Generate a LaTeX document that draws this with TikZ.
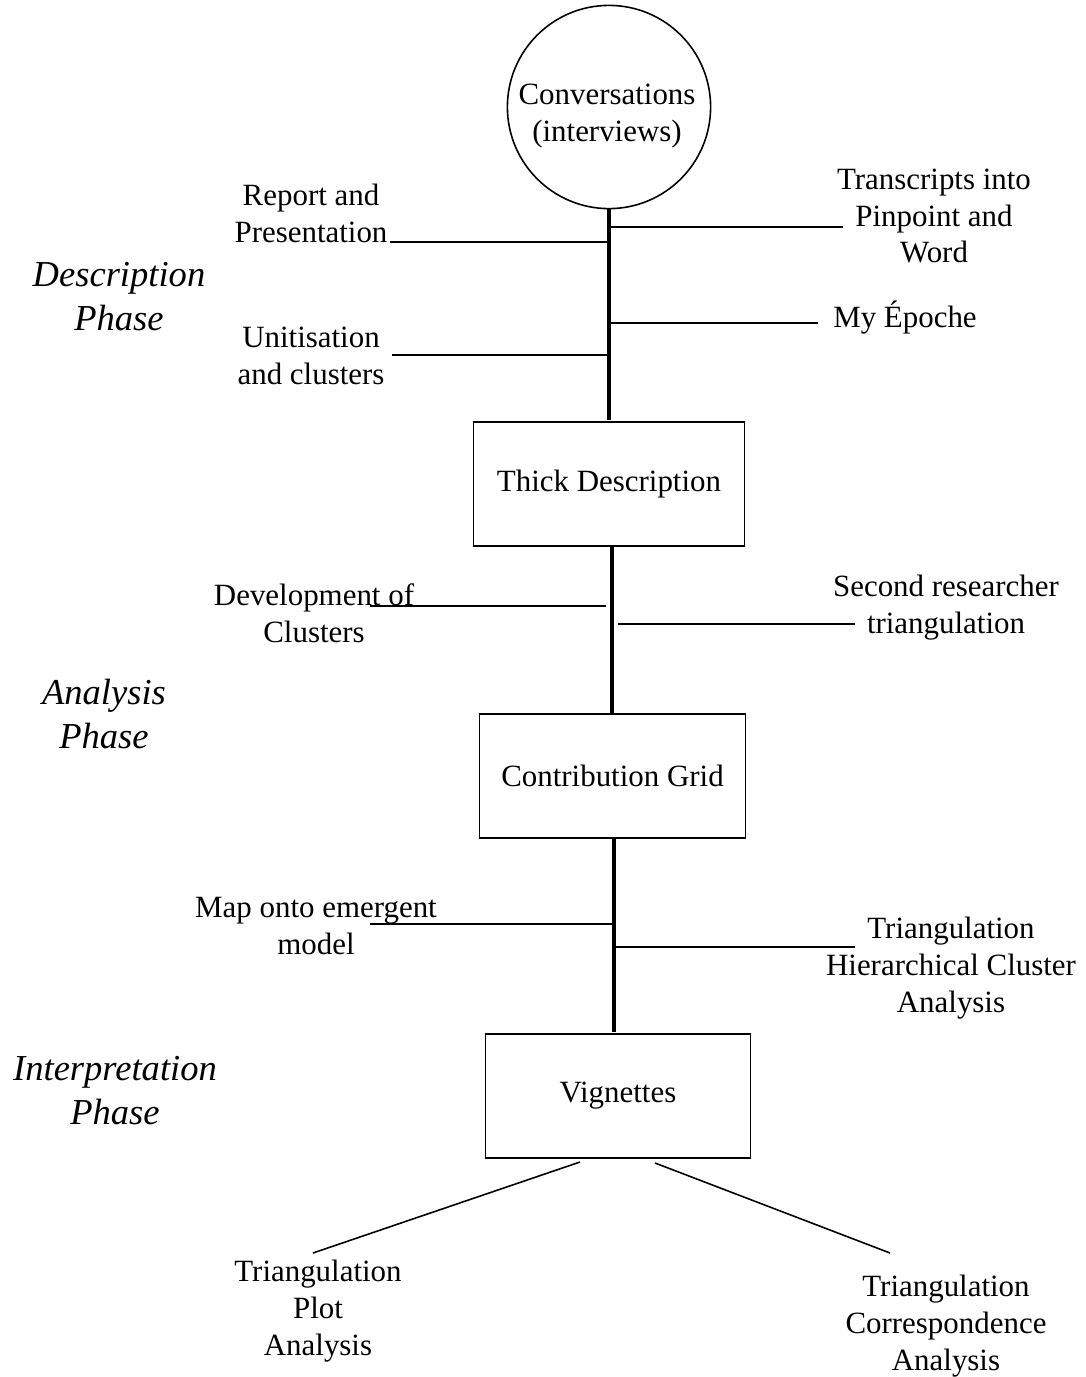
\documentclass[tikz,border=0pt]{standalone}
\usepackage{fontspec}
\setmainfont{Liberation Serif}
\begin{document}
\begin{tikzpicture}[x=0.02cm,y=-0.02cm,
  lbl/.style={align=center,inner sep=0pt,font=\fontsize{17.6}{21}\selectfont},
  phase/.style={align=center,inner sep=0pt,font=\fontsize{20.8}{25}\selectfont\itshape},
  stage/.style={draw,line width=0.9pt,minimum width=#1,minimum height=125*0.567pt,inner sep=0pt,font=\fontsize{17.6}{21}\selectfont},
  spine/.style={line width=2.4pt},
  twig/.style={line width=0.9pt}]
\useasboundingbox (0,0) rectangle (1086,1377);

% start circle and stage boxes
\node[draw,circle,line width=0.9pt,minimum size=204*0.567pt,inner sep=0pt] (conv) at (609,107) {};
\node[lbl] (convtxt) at (607,116) {Conversations\\(interviews)};
\node[stage=272*0.567pt] (thick) at (609,484) {Thick Description};
\node[stage=267*0.567pt] (grid) at (612.5,776) {Contribution Grid};
\node[stage=266*0.567pt] (vig) at (618,1096) {Vignettes};

% main spine
\coordinate (t0) at (609,420);
\coordinate (g0) at (612,713);
\coordinate (v0) at (614,1032);
\coordinate (t1) at (612,545);
\coordinate (g1) at (614,838);
\draw[spine] (conv.south) -- (t0);
\draw[spine] (t1) -- (g0);
\draw[spine] (g1) -- (v0);

% description phase branches
\coordinate (s1) at (609,242);
\coordinate (s2) at (609,227);
\coordinate (s3) at (609,323);
\coordinate (s4) at (609,355);
\coordinate (a1) at (390,242);
\coordinate (a2) at (843,227);
\coordinate (a3) at (818,323);
\coordinate (a4) at (392,355);
\draw[twig] (s1) -- (a1);
\draw[twig] (s2) -- (a2);
\draw[twig] (s3) -- (a3);
\draw[twig] (s4) -- (a4);
\node[lbl] (rep) at (311,213) {Report and\\Presentation};
\node[lbl] (tra) at (934,216) {Transcripts into\\Pinpoint and\\Word};
\node[lbl] (epo) at (905,318) {My Époche};
\node[lbl] (uni) at (311,356) {Unitisation\\and clusters};

% analysis phase branches
\coordinate (s5) at (606,606);
\coordinate (s6) at (618,624);
\coordinate (a5) at (370,606);
\coordinate (a6) at (855,624);
\draw[twig] (s5) -- (a5);
\draw[twig] (s6) -- (a6);
\node[lbl] (dev) at (314,613) {Development of\\Clusters};
\node[lbl] (sec) at (946,608) {Second researcher\\triangulation};

% interpretation phase branches
\coordinate (s7) at (612,924);
\coordinate (s8) at (614,947);
\coordinate (a7) at (370,924);
\coordinate (a8) at (855,947);
\draw[twig] (s7) -- (a7);
\draw[twig] (s8) -- (a8);
\node[lbl] (map) at (316,926) {Map onto emergent\\model};
\node[lbl] (hca) at (951,968) {Triangulation\\Hierarchical Cluster\\Analysis};

% final triangulations
\coordinate (d1) at (580,1162);
\coordinate (d2) at (655,1163);
\coordinate (e1) at (313,1253);
\coordinate (e2) at (890,1253);
\draw[twig] (d1) -- (e1);
\draw[twig] (d2) -- (e2);
\node[lbl] (plot) at (318,1311) {Triangulation\\Plot\\Analysis};
\node[lbl] (corr) at (946,1326) {Triangulation\\Correspondence\\Analysis};

% phase labels
\node[phase] (pd) at (119,297) {Description\\Phase};
\node[phase] (pa) at (104,714) {Analysis\\Phase};
\node[phase] (pi) at (115,1091) {Interpretation\\Phase};
\end{tikzpicture}
\end{document}
